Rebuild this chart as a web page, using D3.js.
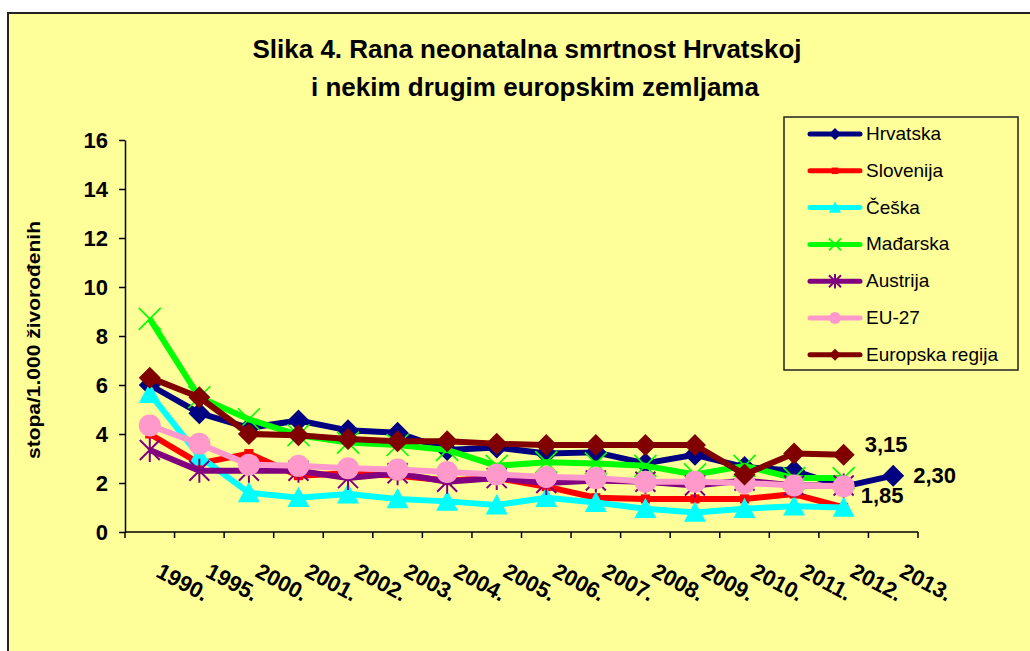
<!DOCTYPE html>
<html>
<head>
<meta charset="utf-8">
<script src="https://cdn.jsdelivr.net/npm/d3@7"></script>
<style>
  body { margin: 0; background: #ffffff; }
  text { font-family: "Liberation Sans", Arial, sans-serif; }
</style>
</head>
<body>
<div id="chart"></div>
<script>
// Data
const years = ["1990.", "1995.", "2000.", "2001.", "2002.", "2003.", "2004.", "2005.",
               "2006.", "2007.", "2008.", "2009.", "2010.", "2011.", "2012.", "2013."];
const seriesNames = ["Hrvatska", "Slovenija", "Češka", "Mađarska", "Austrija", "EU-27", "Europska regija"];
const hrvatska = [6.0, 4.85, 4.25, 4.55, 4.15, 4.05, 3.35, 3.45, 3.2, 3.25, 2.8, 3.15, 2.65, 2.5, 1.85, 2.30];
const slovenija = [4.0, 2.8, 3.2, 2.3, 2.4, 2.3, 2.1, 2.2, 1.85, 1.4, 1.35, 1.35, 1.35, 1.55, 1.0, null];
const ceska = [5.65, 3.1, 1.6, 1.4, 1.55, 1.35, 1.25, 1.1, 1.4, 1.2, 0.95, 0.8, 0.95, 1.05, 1.0, null];
const madarska = [8.7, 5.5, 4.6, 3.95, 3.65, 3.55, 3.35, 2.7, 2.85, 2.8, 2.7, 2.35, 2.7, 2.2, 2.2, null];
const austrija = [3.35, 2.5, 2.5, 2.5, 2.2, 2.4, 2.05, 2.2, 2.0, 2.1, 2.05, 1.9, 2.1, 1.9, 1.9, null];
const eu27 = [4.35, 3.6, 2.75, 2.7, 2.6, 2.55, 2.45, 2.35, 2.25, 2.2, 2.05, 2.05, 2.0, 1.9, 1.87, null];
const regija = [6.3, 5.5, 4.0, 3.95, 3.8, 3.7, 3.7, 3.6, 3.55, 3.55, 3.55, 3.55, 2.35, 3.2, 3.15, null];
const yTicks = [0, 2, 4, 6, 8, 10, 12, 14, 16];
// data labels: [series index, year index, text]
const dataLabels = [[6, 14, "3,15"], [0, 15, "2,30"], [0, 14, "1,85"]];

const width = 1030;
const height = 651;
const margin = {left: 125, right: 112, top: 140, bottom: 119};

const colors = ["#000080", "#ff0000", "#00ffff", "#00ff00", "#800080", "#ff99cc", "#800000"];
const markers = ["diamond", "square", "triangle", "x", "star", "circle", "diamond"];
const allSeries = [hrvatska, slovenija, ceska, madarska, austrija, eu27, regija];

const svg = d3.select("#chart")
  .append("svg")
  .attr("width", width)
  .attr("height", height);

// chart area frame
svg.append("rect")
  .attr("x", 8).attr("y", 13)
  .attr("width", 1040).attr("height", 660)
  .attr("fill", "#ffff99")
  .attr("stroke", "#222")
  .attr("stroke-width", 2);

// title
const title = svg.append("text")
  .attr("text-anchor", "middle")
  .attr("font-weight", "bold")
  .attr("font-size", "26px");
title.append("tspan").attr("x", 527).attr("y", 58).text("Slika 4. Rana neonatalna smrtnost Hrvatskoj");
title.append("tspan").attr("x", 535).attr("y", 96).text("i nekim drugim europskim zemljama");

// scales
const xScale = d3.scalePoint()
  .domain(years)
  .range([margin.left, width - margin.right])
  .padding(0.5);
const step = xScale.step();

const yScale = d3.scaleLinear()
  .domain([0, 16])
  .range([height - margin.bottom, margin.top]);

// y axis
svg.append("g")
  .attr("transform", `translate(${margin.left}, 0)`)
  .call(d3.axisLeft(yScale).tickValues(yTicks).tickSize(6).tickSizeOuter(0).tickPadding(11))
  .call(g => g.selectAll("line, path").attr("stroke", "#000").attr("stroke-width", 1.5))
  .call(g => g.selectAll("text").attr("font-size", "22px").attr("font-weight", "bold")
    .attr("font-family", "Liberation Sans, Arial, sans-serif").attr("fill", "#000"));

// x axis: ticks between categories
const xAxisG = svg.append("g")
  .attr("transform", `translate(0, ${height - margin.bottom})`);
xAxisG.append("line")
  .attr("x1", margin.left).attr("x2", width - margin.right)
  .attr("stroke", "#000").attr("stroke-width", 1.5);
xAxisG.selectAll(".xtick")
  .data(years.concat(["end"]))
  .enter()
  .append("line")
    .attr("class", "xtick")
    .attr("x1", (d, i) => margin.left + i * step)
    .attr("x2", (d, i) => margin.left + i * step)
    .attr("y1", 0).attr("y2", 6)
    .attr("stroke", "#000").attr("stroke-width", 1.5);
xAxisG.selectAll(".xlabel")
  .data(years)
  .enter()
  .append("text")
    .attr("class", "xlabel")
    .attr("transform", d => `translate(${xScale(d) + 5}, 44) rotate(28)`)
    .attr("font-size", "22px")
    .attr("font-weight", "bold")
    .text(d => d);

// y axis title
svg.append("text")
  .attr("transform", "translate(40, 340) rotate(-90)")
  .attr("text-anchor", "middle")
  .attr("font-size", "18px")
  .attr("font-weight", "bold")
  .attr("textLength", 238)
  .attr("lengthAdjust", "spacingAndGlyphs")
  .text("stopa/1.000 živorođenih");

// marker drawing
function drawMarker(g, type, color, s) {
  if (type === "diamond") {
    g.append("path").attr("d", `M0,${-s}L${s},0L0,${s}L${-s},0Z`).attr("fill", color);
  } else if (type === "square") {
    g.append("rect").attr("x", -s * 0.65).attr("y", -s * 0.65)
      .attr("width", s * 1.3).attr("height", s * 1.3).attr("fill", color);
  } else if (type === "triangle") {
    g.append("path").attr("d", `M0,${-s}L${s},${s * 0.85}L${-s},${s * 0.85}Z`).attr("fill", color);
  } else if (type === "circle") {
    g.append("circle").attr("r", s).attr("fill", color);
  } else if (type === "x") {
    g.append("path").attr("d", `M${-s},${-s}L${s},${s}M${-s},${s}L${s},${-s}`)
      .attr("stroke", color).attr("stroke-width", 1.6);
  } else if (type === "star") {
    g.append("path").attr("d", `M${-s},${-s}L${s},${s}M${-s},${s}L${s},${-s}M0,${-s * 1.2}L0,${s * 1.2}`)
      .attr("stroke", color).attr("stroke-width", 2);
  }
}

const markerSize = [11, 7, 11, 11, 10, 11, 11];

const line = d3.line()
  .defined(d => d != null)
  .x((d, i) => xScale(years[i]))
  .y(d => yScale(d));

allSeries.forEach(function(vals, k) {
  const g = svg.append("g");
  g.append("path")
    .datum(vals)
    .attr("d", line)
    .attr("fill", "none")
    .attr("stroke", colors[k])
    .attr("stroke-width", 6)
    .attr("stroke-linejoin", "round");
  g.selectAll(".m")
    .data(vals.map((v, i) => [i, v]).filter(d => d[1] != null))
    .enter()
    .append("g")
      .attr("transform", d => `translate(${xScale(years[d[0]])}, ${yScale(d[1])})`)
      .each(function() { drawMarker(d3.select(this), markers[k], colors[k], markerSize[k]); });
});

// data labels
const labelOffsets = [[21, -11], [20, -1], [17, 8]];
svg.selectAll(".dlabel")
  .data(dataLabels)
  .enter()
  .append("text")
    .attr("x", (d, i) => xScale(years[d[1]]) + labelOffsets[i][0])
    .attr("y", (d, i) => yScale(allSeries[d[0]][d[1]]) + labelOffsets[i][1] + 8)
    .attr("font-size", "22px")
    .attr("font-weight", "bold")
    .text(d => d[2]);

// legend
const legend = svg.append("g");
legend.append("rect")
  .attr("x", 784).attr("y", 117)
  .attr("width", 234).attr("height", 253)
  .attr("fill", "#ffff99")
  .attr("stroke", "#222")
  .attr("stroke-width", 1.5);
seriesNames.forEach(function(name, k) {
  const y = 134 + k * 36.8;
  legend.append("line")
    .attr("x1", 810).attr("x2", 860)
    .attr("y1", y).attr("y2", y)
    .attr("stroke", colors[k]).attr("stroke-width", 5)
    .attr("stroke-linecap", "round");
  const mg = legend.append("g").attr("transform", `translate(835, ${y})`);
  drawMarker(mg, markers[k], colors[k], markers[k] === "square" ? 5 : 6);
  legend.append("text")
    .attr("x", 866).attr("y", y + 6)
    .attr("font-size", "19px")
    .text(name);
});
</script>
</body>
</html>
